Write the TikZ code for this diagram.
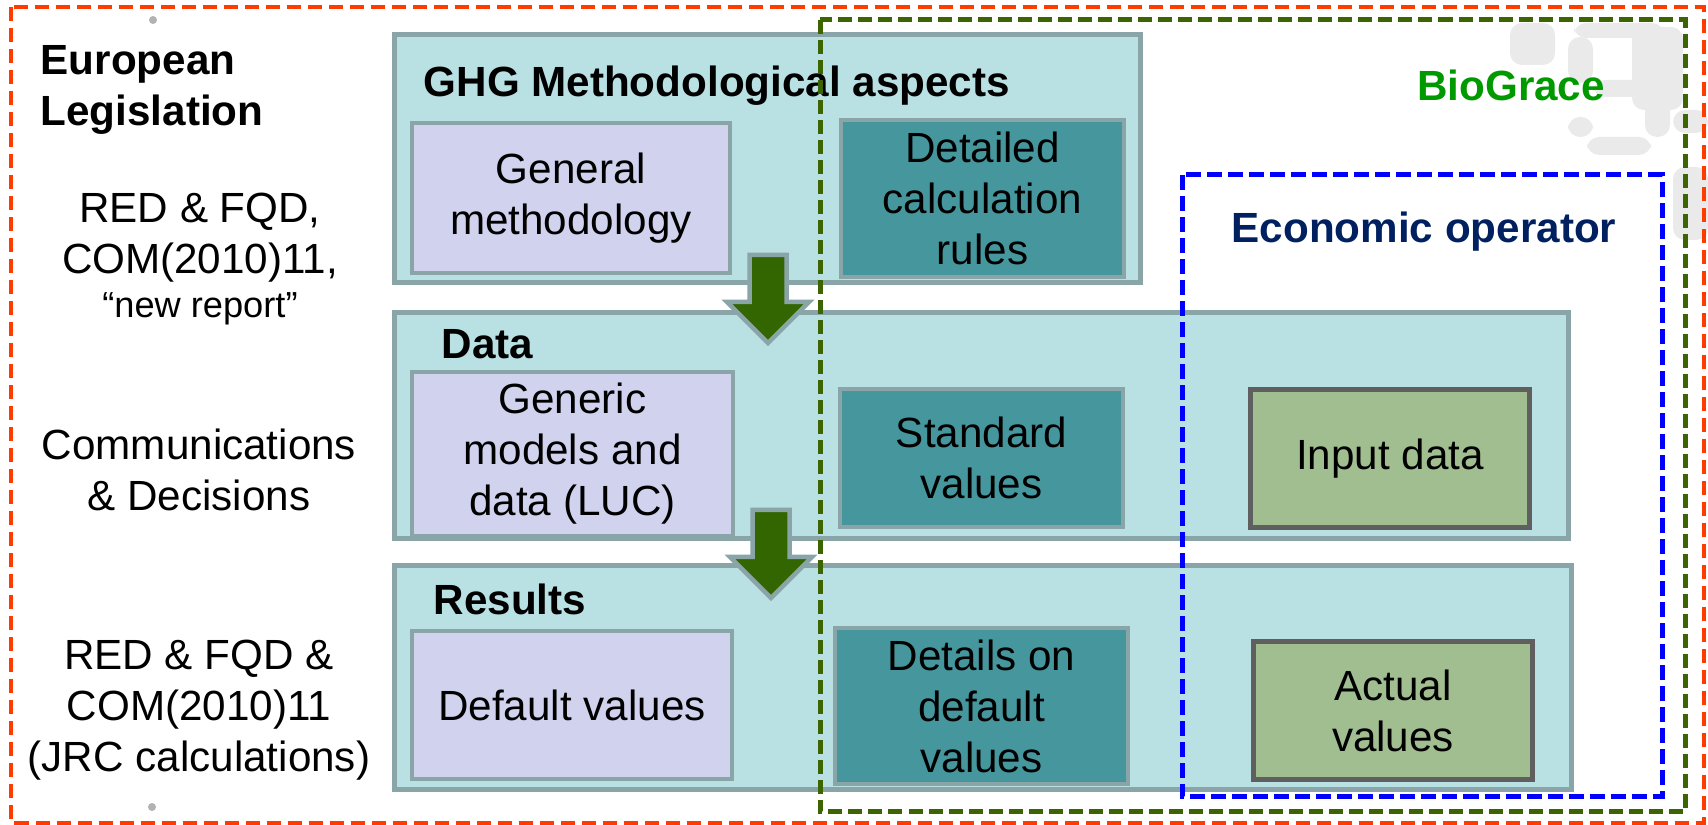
\documentclass[tikz,border=0pt]{standalone}
\usepackage{fontspec}
\setmainfont{Liberation Sans}
\usepackage{xcolor}
\usetikzlibrary{positioning}
\definecolor{panelfill}{RGB}{185, 224, 227}
\definecolor{panelline}{RGB}{138, 165, 168}
\definecolor{lilacfill}{RGB}{208, 210, 238}
\definecolor{tealfill}{RGB}{70, 150, 158}
\definecolor{olivefill}{RGB}{161, 190, 145}
\definecolor{oliveline}{RGB}{95, 95, 95}
\definecolor{arrowgreen}{RGB}{51, 102, 0}
\definecolor{framered}{RGB}{255, 60, 0}
\definecolor{framegreen}{RGB}{60, 100, 0}
\definecolor{biogreen}{RGB}{0, 153, 0}
\definecolor{navy}{RGB}{0, 32, 96}
\definecolor{ghostgrey}{RGB}{234, 234, 234}
\newcommand{\downblock}[1]{% block arrow hanging from a coordinate
  \draw[downarr] (#1) ++(-18.5,0) -- ++(37,0) -- ++(0,47) -- ++(22.5,0)
    -- ++(-41,41) -- ++(-41,-41) -- ++(22.5,0) -- cycle;}

\begin{document}
\begin{tikzpicture}[
        x = 0.01cm, y = -0.01cm, % one unit = one pixel of the slide
        font = \fontsize{12}{14.5}\selectfont,
        line join = miter
    ]
        \tikzstyle{panel}=[
            draw = panelline,
            fill = panelfill,
            line width = 0.05cm,
            inner sep = 0pt
        ]
        \tikzstyle{lilacbox}=[
            draw = panelline,
            fill = lilacfill,
            line width = 0.04cm,
            align = center
        ]
        \tikzstyle{tealbox}=[lilacbox, fill = tealfill]
        \tikzstyle{olivebox}=[lilacbox, draw = oliveline, line width = 0.05cm, fill = olivefill]
        \tikzstyle{downarr}=[draw = panelline, fill = arrowgreen, line width = 0.045cm]
        \tikzstyle{title}=[font = \fontsize{12}{14.5}\selectfont\bfseries, inner sep = 0pt]
        \tikzstyle{side}=[align = center, inner sep = 0pt]
        \tikzstyle{ghost}=[fill = ghostgrey, rounded corners = 0.12cm]

        \useasboundingbox (0,0) rectangle (1708,825);

        % faint logo in the corner
        \fill[ghost] (1510,23) rectangle (1555,65);
        \fill[ghost] (1574,23) rectangle (1664,38);
        \fill[ghost] (1568,37) rectangle (1593,83);
        \fill[ghost] (1632,27) rectangle (1683,110);
        \fill[ghost] (1593,80) rectangle (1651,97);
        \fill[ghost] (1645,97) rectangle (1670,137);
        \fill[ghost] (1568,117) rectangle (1593,137);
        \fill[ghost] (1587,137) rectangle (1651,155);
        \fill[ghost] (1673,110) rectangle (1708,133);
        \fill[ghost] (1673,167) rectangle (1708,240);

        % three layers
        \node[panel, minimum width=7.45cm, minimum height=2.47cm] (ghg) at (767.5,158.5) {};
        \node[panel, minimum width=11.73cm, minimum height=2.25cm] (data) at (981.5,425.5) {};
        \node[panel, minimum width=11.76cm, minimum height=2.23cm] (res) at (983,677.5) {};

        \node[title, anchor=west] (ghgtitle) at (423,86) {GHG Methodological aspects};
        \node[title, anchor=west] (datatitle) at (441,344) {Data};
        \node[title, anchor=west] (restitle) at (433,599) {Results};

        \node[lilacbox, minimum width=3.18cm, minimum height=1.50cm] (genmeth) at (571,198) {General\\methodology};
        \node[tealbox, minimum width=2.83cm, minimum height=1.47cm] (calcrules) at (982.5,198.5) {Detailed\\calculation\\rules};
        \node[lilacbox, minimum width=3.21cm, minimum height=1.48cm] (generic) at (572.5,454) {Generic\\models and\\data (LUC)};
        \node[tealbox, minimum width=2.83cm, minimum height=1.38cm] (stdval) at (981.5,458) {Standard\\values};
        \node[olivebox, minimum width=2.78cm, minimum height=1.37cm] (input) at (1390,458.5) {Input data};
        \node[lilacbox, minimum width=3.20cm, minimum height=1.48cm] (defval) at (572,705) {Default values};
        \node[tealbox, minimum width=2.93cm, minimum height=1.44cm] (detdef) at (981.5,706) {Details on\\default\\values};
        \node[olivebox, minimum width=2.78cm, minimum height=1.37cm] (actual) at (1393,710.5) {Actual\\values};

        % arrows between the layers
        \coordinate (arrA) at (768,255);
        \coordinate (arrB) at (771,510);
        \downblock{arrA}
        \downblock{arrB}

        % dashed frames
        \draw[framered, line width=0.035cm, dash pattern=on 0.14cm off 0.07cm] (11,7) rectangle (1704,823);
        \draw[framegreen, line width=0.05cm, dash pattern=on 0.14cm off 0.06cm] (820,20) rectangle (1685,812);
        \draw[blue, line width=0.05cm, dash pattern=on 0.15cm off 0.06cm] (1182,175) rectangle (1662,797);

        \node[title, text=biogreen] (biograce) at (1511,85) {BioGrace};
        \node[title, text=navy] (ecop) at (1424,232) {Economic operator};

        % left column
        \node[title, anchor=west, align=left] (eulaw) at (40,90) {European\\Legislation};
        \node[side] (redfqd) at (200,259) {RED \& FQD,\\COM(2010)11,\\[-2pt]{\fontsize{10.3}{12}\selectfont “new report”}};
        \node[side] (comdec) at (199,470) {Communications\\\& Decisions};
        \node[side] (jrc) at (199,710) {RED \& FQD \&\\COM(2010)11\\(JRC calculations)};

        \fill[gray!60] (153,20) circle (4);
        \fill[gray!60] (152,807) circle (4);
    \end{tikzpicture}
\end{document}
